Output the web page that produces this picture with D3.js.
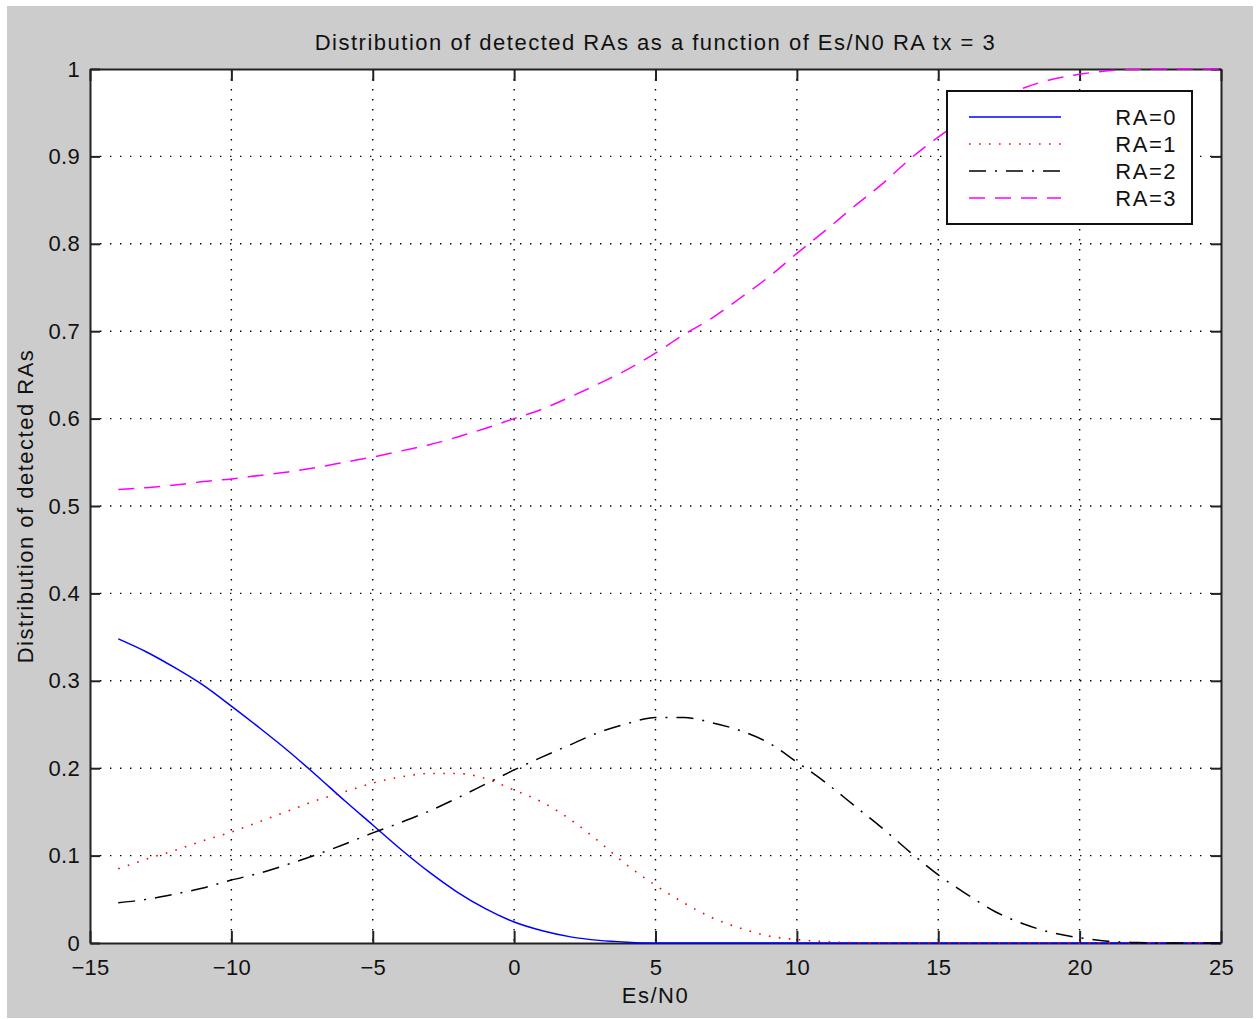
<!DOCTYPE html>
<html lang="en">
<head>
    <meta charset="UTF-8">
    <title>Distribution of detected RAs</title>
    <script src="https://cdn.jsdelivr.net/npm/d3@7"></script>
    <style>
        body { margin: 0; background: #fff; }
        svg { display: block; font-family: "Liberation Sans", Arial, sans-serif; }
        svg text { letter-spacing: 1.5px; }
        svg .tick text { letter-spacing: 0.3px; }
    </style>
</head>
<body>
<svg id="chart"></svg>

<script>
    // Es/N0 values (x axis)
    const esn0 = [-14, -13, -12, -11, -10, -9, -8, -7, -6, -5, -4, -3, -2, -1, 0, 1, 2, 3, 4, 5,
        6, 7, 8, 9, 10, 11, 12, 13, 14, 15, 16, 17, 18, 19, 20, 21, 22, 23, 24, 25];
    // distributions
    const ra0 = [0.348, 0.333, 0.315, 0.295, 0.271, 0.246, 0.220, 0.192, 0.163, 0.135, 0.107, 0.081, 0.058, 0.039, 0.024, 0.014, 0.007, 0.003, 0.001, 0,
        0, 0, 0, 0, 0, 0, 0, 0, 0, 0, 0, 0, 0, 0, 0, 0, 0, 0, 0, 0];
    const ra1 = [0.085, 0.096, 0.106, 0.117, 0.127, 0.139, 0.151, 0.163, 0.173, 0.183, 0.190, 0.194, 0.194, 0.188, 0.175, 0.161, 0.141, 0.116, 0.089, 0.066,
        0.046, 0.029, 0.017, 0.008, 0.004, 0.0015, 0.0005, 0, 0, 0, 0, 0, 0, 0, 0, 0, 0, 0, 0, 0];
    const ra2 = [0.046, 0.050, 0.056, 0.063, 0.072, 0.080, 0.090, 0.101, 0.113, 0.126, 0.138, 0.151, 0.166, 0.182, 0.198, 0.213, 0.227, 0.241, 0.251, 0.258,
        0.258, 0.252, 0.243, 0.229, 0.207, 0.184, 0.158, 0.132, 0.104, 0.078, 0.056, 0.036, 0.022, 0.012, 0.006, 0.002, 0.0005, 0, 0, 0];
    const ra3 = [0.519, 0.521, 0.524, 0.528, 0.531, 0.535, 0.539, 0.544, 0.550, 0.556, 0.563, 0.570, 0.579, 0.589, 0.600, 0.611, 0.625, 0.640, 0.656, 0.675,
        0.696, 0.715, 0.738, 0.762, 0.789, 0.815, 0.842, 0.868, 0.897, 0.922, 0.944, 0.964, 0.978, 0.988, 0.994, 0.998, 0.9995, 1, 1, 1];

    const xTicks = [-15, -10, -5, 0, 5, 10, 15, 20, 25];
    const yTicks = [0, 0.1, 0.2, 0.3, 0.4, 0.5, 0.6, 0.7, 0.8, 0.9, 1];
    const seriesNames = ['RA=0', 'RA=1', 'RA=2', 'RA=3'];

    const W = 1257, H = 1019;
    const margin = {top: 69, right: 36, bottom: 76, left: 90};
    const width = W - margin.left - margin.right;
    const height = H - margin.top - margin.bottom;

    const svg = d3.select('#chart').attr('width', W).attr('height', H);

    // grey figure background
    svg.append('rect').attr('x', 7).attr('y', 6).attr('width', 1246).attr('height', 1012).attr('fill', '#cccccc');

    const x = d3.scaleLinear().domain([-15, 25]).range([0, width]);
    const y = d3.scaleLinear().domain([0, 1]).range([height, 0]);

    const g = svg.append('g').attr('transform', 'translate(' + margin.left + ',' + margin.top + ')');

    g.append('rect').attr('width', width).attr('height', height).attr('fill', '#fff');

    // dotted grid
    g.append('g').attr('class', 'grid')
        .selectAll('line.gx').data(xTicks.slice(1, -1)).enter().append('line')
        .attr('x1', d => x(d)).attr('x2', d => x(d)).attr('y1', 0).attr('y2', height);
    g.select('.grid')
        .selectAll('line.gy').data(yTicks.slice(1, -1)).enter().append('line')
        .attr('x1', 0).attr('x2', width).attr('y1', d => y(d)).attr('y2', d => y(d));
    g.selectAll('.grid line')
        .attr('stroke', '#000').attr('stroke-width', 1.4).attr('stroke-dasharray', '1.4,8.6');

    const fmtX = d => (d < 0 ? '\u2212' + Math.abs(d) : '' + d);
    const fmtY = d => (d === 0 || d === 1 ? '' + d : d.toFixed(1));

    // axes with inward ticks on all four sides
    const axB = g.append('g').attr('transform', 'translate(0,' + height + ')')
        .call(d3.axisBottom(x).tickValues(xTicks).tickFormat(fmtX).tickSizeInner(-12).tickSizeOuter(0).tickPadding(16));
    const axT = g.append('g')
        .call(d3.axisTop(x).tickValues(xTicks).tickFormat('').tickSizeInner(-12).tickSizeOuter(0));
    const axL = g.append('g')
        .call(d3.axisLeft(y).tickValues(yTicks).tickFormat(fmtY).tickSizeInner(-10).tickSizeOuter(0).tickPadding(10));
    const axR = g.append('g').attr('transform', 'translate(' + width + ',0)')
        .call(d3.axisRight(y).tickValues(yTicks).tickFormat('').tickSizeInner(-10).tickSizeOuter(0));

    [axB, axT, axL, axR].forEach(function (a) {
        a.select('.domain').attr('stroke', '#222').attr('stroke-width', 2);
        a.selectAll('.tick line').attr('stroke', '#222').attr('stroke-width', 2);
        a.selectAll('.tick text').attr('fill', '#111').attr('font-size', '22px')
            .attr('font-family', '"Liberation Sans", Arial, sans-serif');
    });

    // curves
    const styles = [
        {color: '#0000ff', dash: null, w: 1.5},
        {color: '#ff0000', dash: '1.6,8.4', w: 1.6},
        {color: '#000000', dash: '17,9,2,9', w: 1.5},
        {color: '#ff00ff', dash: '16,10', w: 1.5}
    ];
    const allSeries = [ra0, ra1, ra2, ra3];

    const line = d3.line()
        .x(d => x(d[0]))
        .y(d => y(d[1]))
        .curve(d3.curveMonotoneX);

    allSeries.forEach(function (vals, i) {
        g.append('path')
            .datum(esn0.map((v, j) => [v, vals[j]]))
            .attr('fill', 'none')
            .attr('stroke', styles[i].color)
            .attr('stroke-width', styles[i].w)
            .attr('stroke-dasharray', styles[i].dash)
            .attr('d', line);
    });

    // legend
    const lg = svg.append('g').attr('transform', 'translate(947,91)');
    lg.append('rect').attr('width', 245).attr('height', 133)
        .attr('fill', '#fff').attr('stroke', '#111').attr('stroke-width', 2);
    seriesNames.forEach(function (name, i) {
        const yy = 26 + i * 27;
        lg.append('line').attr('x1', 22).attr('x2', 114).attr('y1', yy).attr('y2', yy)
            .attr('stroke', styles[i].color).attr('stroke-width', styles[i].w)
            .attr('stroke-dasharray', styles[i].dash);
        lg.append('text').attr('x', 230).attr('y', yy + 8)
            .attr('text-anchor', 'end').attr('font-size', '22px').attr('fill', '#111')
            .text(name);
    });

    // title and axis labels
    svg.append('text')
        .attr('x', margin.left + width / 2).attr('y', 50)
        .attr('text-anchor', 'middle').attr('font-size', '22px').attr('fill', '#111')
        .text('Distribution of detected RAs as a function of Es/N0 RA tx = 3');

    svg.append('text')
        .attr('x', margin.left + width / 2).attr('y', 1003)
        .attr('text-anchor', 'middle').attr('font-size', '22px').attr('fill', '#111')
        .text('Es/N0');

    svg.append('text')
        .attr('transform', 'translate(33,' + (margin.top + height / 2) + ') rotate(-90)')
        .attr('text-anchor', 'middle').attr('font-size', '22px').attr('fill', '#111')
        .text('Distribution of detected RAs');
</script>
</body>
</html>
